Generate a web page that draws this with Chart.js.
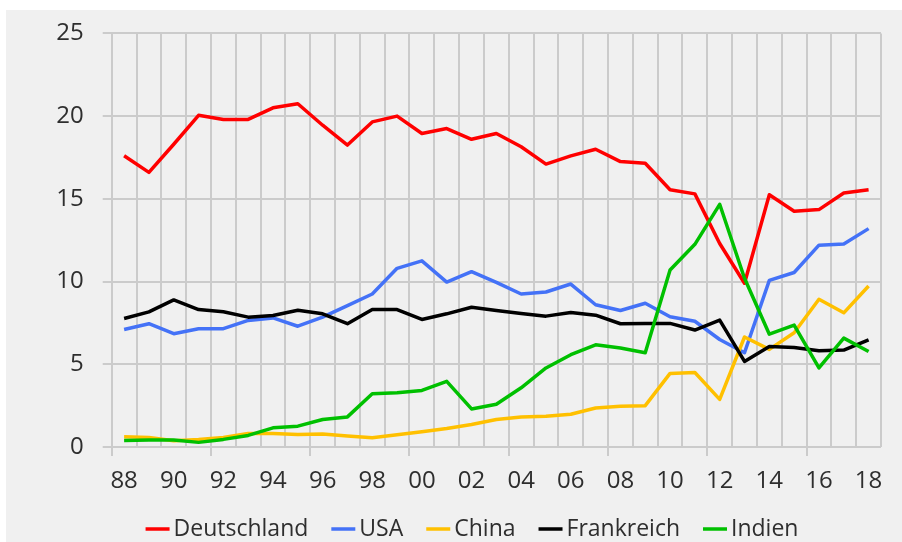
<!DOCTYPE html>
<html>
<head>
<meta charset="utf-8">
<script src="https://cdn.jsdelivr.net/npm/chart.js@4/dist/chart.umd.min.js"></script>
<style>
  html, body { margin: 0; padding: 0; background: #ffffff; }
  #wrap { width: 902px; height: 542px; position: relative; }
</style>
</head>
<body>
<div id="wrap"><canvas id="c" width="902" height="542"></canvas></div>
<script>
const years = ['88','89','90','91','92','93','94','95','96','97','98','99','00','01','02','03','04','05','06','07','08','09','10','11','12','13','14','15','16','17','18'];

const deutschland = [17.6, 16.6, 18.3, 20.05, 19.8, 19.8, 20.5, 20.75, 19.45, 18.25, 19.65, 20.0, 18.95, 19.25, 18.6, 18.95, 18.15, 17.1, 17.6, 18.0, 17.25, 17.15, 15.55, 15.3, 12.3, 9.9, 15.25, 14.25, 14.35, 15.35, 15.55];
const usa = [7.1, 7.45, 6.85, 7.15, 7.15, 7.65, 7.8, 7.3, 7.85, 8.55, 9.25, 10.8, 11.25, 9.97, 10.6, 9.95, 9.25, 9.37, 9.85, 8.6, 8.25, 8.69, 7.87, 7.6, 6.5, 5.7, 10.07, 10.55, 12.2, 12.27, 13.2];
const china = [0.62, 0.58, 0.38, 0.45, 0.58, 0.82, 0.82, 0.76, 0.78, 0.66, 0.56, 0.74, 0.92, 1.12, 1.36, 1.66, 1.82, 1.86, 1.98, 2.36, 2.46, 2.5, 4.45, 4.5, 2.88, 6.65, 5.9, 6.91, 8.93, 8.11, 9.73];
const frankreich = [7.77, 8.17, 8.89, 8.31, 8.17, 7.85, 7.95, 8.27, 8.05, 7.45, 8.31, 8.31, 7.71, 8.05, 8.45, 8.25, 8.07, 7.91, 8.13, 7.97, 7.45, 7.47, 7.47, 7.07, 7.67, 5.17, 6.07, 6.01, 5.82, 5.86, 6.47];
const indien = [0.4, 0.42, 0.42, 0.28, 0.46, 0.7, 1.16, 1.26, 1.66, 1.82, 3.22, 3.28, 3.42, 3.97, 2.3, 2.58, 3.58, 4.78, 5.58, 6.18, 5.98, 5.7, 10.7, 12.25, 14.67, 10.2, 6.82, 7.37, 4.78, 6.58, 5.77];

const seriesNames = ['Deutschland', 'USA', 'China', 'Frankreich', 'Indien'];
const seriesColors = ['#ff0000', '#4472f7', '#ffc000', '#000000', '#00c000'];
const seriesValues = [deutschland, usa, china, frankreich, indien];

const FONT = '"Open Sans", "Liberation Sans", sans-serif';
const TEXT_COLOR = '#2e2e2e';
const GRID_COLOR = '#cbcbcb';

const bgPlugin = {
  id: 'bg',
  beforeDraw(chart) {
    const ctx = chart.ctx;
    ctx.save();
    ctx.fillStyle = '#ffffff';
    ctx.fillRect(0, 0, chart.width, chart.height);
    ctx.fillStyle = '#f0f0f0';
    ctx.fillRect(6, 10, chart.width - 6, chart.height - 10);
    ctx.restore();
  }
};

const legendPlugin = {
  id: 'lineLegend',
  afterDraw(chart) {
    const ctx = chart.ctx;
    const sample = 24, gap = 4, spacing = 23, cy = 529, center = 472;
    ctx.save();
    ctx.font = '23px ' + FONT;
    ctx.textBaseline = 'middle';
    const ds = chart.data.datasets;
    let total = 0;
    const widths = ds.map(d => ctx.measureText(d.label).width);
    widths.forEach((w, i) => { total += sample + gap + w + (i < ds.length - 1 ? spacing : 0); });
    let x = center - total / 2;
    ds.forEach((d, i) => {
      ctx.strokeStyle = d.borderColor;
      ctx.lineWidth = 3.5;
      ctx.beginPath();
      ctx.moveTo(x, cy);
      ctx.lineTo(x + sample, cy);
      ctx.stroke();
      ctx.fillStyle = TEXT_COLOR;
      ctx.fillText(d.label, x + sample + gap, cy);
      x += sample + gap + widths[i] + spacing;
    });
    ctx.restore();
  }
};

const datasets = seriesNames.map((name, i) => ({
  label: name,
  data: seriesValues[i],
  borderColor: seriesColors[i],
  backgroundColor: seriesColors[i],
  borderWidth: 3.5,
  pointRadius: 0,
  pointHoverRadius: 0,
  tension: 0,
  fill: false,
  borderJoinStyle: 'round',
  order: seriesNames.length - i
}));

new Chart(document.getElementById('c'), {
  type: 'line',
  data: { labels: years, datasets },
  plugins: [bgPlugin, legendPlugin],
  options: {
    responsive: false,
    animation: false,
    devicePixelRatio: 1,
    layout: { padding: { top: 30, right: 21, left: 0, bottom: 0 } },
    plugins: {
      legend: { display: false },
      tooltip: { enabled: false }
    },
    scales: {
      x: {
        offset: true,
        afterFit(scale) { scale.height = 95; },
        grid: {
          offset: true,
          color: GRID_COLOR,
          lineWidth: 2,
          drawTicks: true,
          tickLength: 9,
          tickColor: (c) => (c.index % 4 === 0 ? GRID_COLOR : 'rgba(0,0,0,0)')
        },
        border: { display: false },
        ticks: {
          autoSkip: false,
          maxRotation: 0,
          minRotation: 0,
          padding: 11,
          color: TEXT_COLOR,
          font: { family: FONT, size: 24 },
          callback: function (val, idx) { return idx % 2 === 0 ? this.getLabelForValue(val) : ''; }
        }
      },
      y: {
        min: 0,
        max: 25,
        afterFit(scale) { scale.width = 111.7; },
        grid: {
          color: GRID_COLOR,
          lineWidth: 2,
          drawTicks: true,
          tickLength: 9,
          tickColor: GRID_COLOR
        },
        border: { display: false },
        ticks: {
          stepSize: 5,
          padding: 19,
          color: TEXT_COLOR,
          font: { family: FONT, size: 24 }
        }
      }
    }
  }
});
</script>
</body>
</html>
